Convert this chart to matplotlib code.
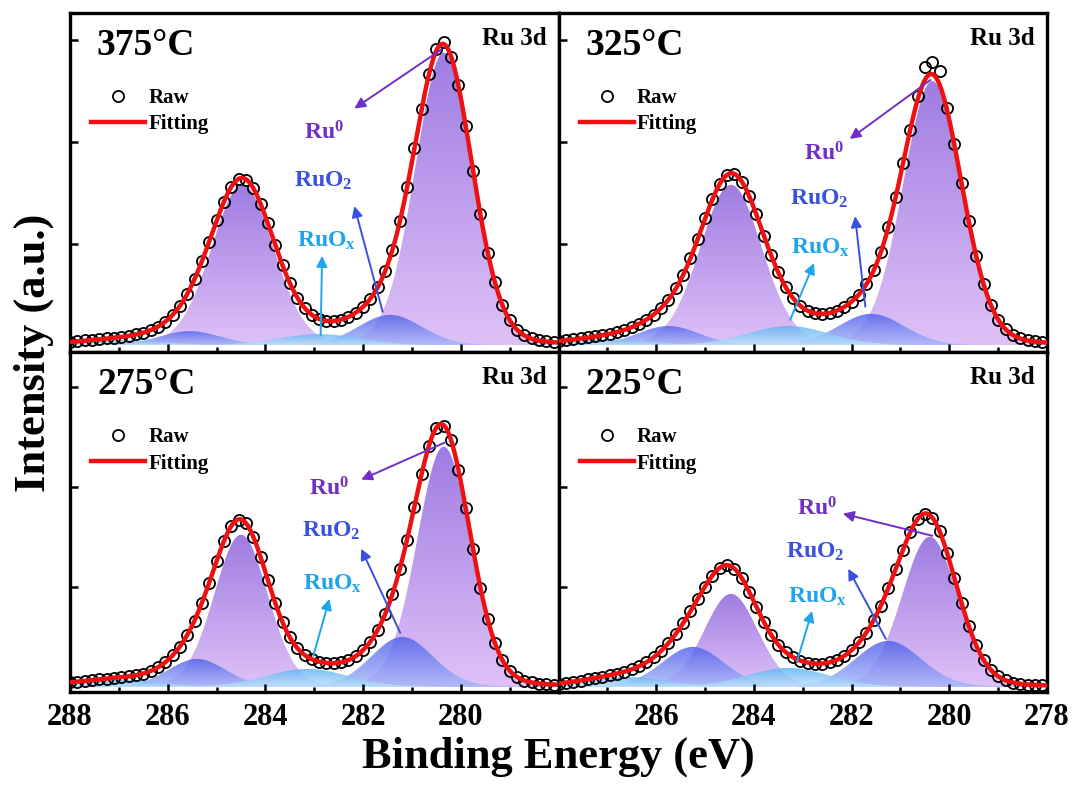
import numpy as np
import matplotlib
matplotlib.use('Agg')
import matplotlib.pyplot as plt
from matplotlib.colors import LinearSegmentedColormap

plt.rcParams['font.family'] = ['Liberation Serif', 'DejaVu Serif']
plt.rcParams['font.weight'] = 'bold'
plt.rcParams['mathtext.fontset'] = 'custom'
plt.rcParams['mathtext.rm'] = 'Liberation Serif:bold'
plt.rcParams['mathtext.it'] = 'Liberation Serif:bold'
plt.rcParams['mathtext.bf'] = 'Liberation Serif:bold'

temps = ['375°C', '325°C', '275°C', '225°C']
species = ['Ru0', 'Ru0', 'RuO2', 'RuO2', 'RuOx', 'RuOx']

# fitted peak components (Ru0 3d5/2, Ru0 3d3/2, RuO2 3d5/2, RuO2 3d3/2, RuOx 3d5/2, RuOx 3d3/2)
centers = {
    '375°C': [280.35, 284.47, 281.45, 285.55, 282.90, 286.90],
    '325°C': [280.35, 284.47, 281.60, 285.75, 283.30, 287.00],
    '275°C': [280.35, 284.50, 281.20, 285.40, 283.15, 287.00],
    '225°C': [280.40, 284.47, 281.25, 285.25, 283.30, 286.60],
}
heights = {
    '375°C': [2.88, 1.58, 0.30, 0.14, 0.11, 0.05],
    '325°C': [2.60, 1.58, 0.31, 0.19, 0.19, 0.06],
    '275°C': [2.40, 1.52, 0.50, 0.28, 0.18, 0.07],
    '225°C': [1.50, 0.93, 0.46, 0.40, 0.19, 0.10],
}
fwhms = {
    '375°C': [1.38, 1.50, 1.55, 1.50, 2.00, 2.00],
    '325°C': [1.42, 1.50, 1.60, 1.50, 2.00, 2.00],
    '275°C': [1.30, 1.30, 1.50, 1.40, 2.00, 2.00],
    '225°C': [1.35, 1.30, 1.60, 1.50, 2.00, 2.00],
}

def pv(x, c, h, w, eta=0.1):
    d = (x - c) / w
    return h * ((1 - eta) * np.exp(-4 * np.log(2) * d ** 2) + eta / (1 + 4 * d ** 2))

raw_energy = [288.00, 287.85, 287.70, 287.55, 287.40, 287.25, 287.10, 286.95, 286.80, 286.65,
              286.50, 286.35, 286.20, 286.05, 285.90, 285.75, 285.60, 285.45, 285.30, 285.15,
              285.00, 284.85, 284.70, 284.55, 284.40, 284.25, 284.10, 283.95, 283.80, 283.65,
              283.50, 283.35, 283.20, 283.05, 282.90, 282.75, 282.60, 282.45, 282.30, 282.15,
              282.00, 281.85, 281.70, 281.55, 281.40, 281.25, 281.10, 280.95, 280.80, 280.65,
              280.50, 280.35, 280.20, 280.05, 279.90, 279.75, 279.60, 279.45, 279.30, 279.15,
              279.00, 278.85, 278.70, 278.55, 278.40, 278.25, 278.10]
raw_375 = [0.03, 0.04, 0.05, 0.05, 0.06, 0.07, 0.07, 0.08, 0.09, 0.11, 0.12, 0.15, 0.18, 0.23, 0.30, 0.39, 0.51, 0.65, 0.83, 1.02, 1.23, 1.41, 1.56, 1.64, 1.63, 1.55, 1.39, 1.20, 0.99, 0.79, 0.61, 0.47, 0.37, 0.30, 0.26, 0.24, 0.24, 0.25, 0.28, 0.32, 0.38, 0.46, 0.57, 0.73, 0.94, 1.22, 1.56, 1.94, 2.33, 2.67, 2.92, 2.98, 2.84, 2.56, 2.16, 1.72, 1.29, 0.91, 0.62, 0.40, 0.25, 0.15, 0.10, 0.07, 0.05, 0.04, 0.03]
raw_325 = [0.04, 0.05, 0.06, 0.07, 0.08, 0.09, 0.10, 0.11, 0.13, 0.15, 0.18, 0.21, 0.25, 0.30, 0.37, 0.45, 0.56, 0.69, 0.86, 1.05, 1.25, 1.44, 1.59, 1.68, 1.69, 1.61, 1.47, 1.29, 1.08, 0.89, 0.72, 0.57, 0.47, 0.39, 0.34, 0.32, 0.31, 0.32, 0.34, 0.38, 0.43, 0.50, 0.60, 0.74, 0.92, 1.16, 1.46, 1.79, 2.12, 2.45, 2.74, 2.79, 2.70, 2.34, 1.98, 1.60, 1.22, 0.88, 0.60, 0.40, 0.25, 0.16, 0.10, 0.07, 0.05, 0.04, 0.03]
raw_275 = [0.05, 0.05, 0.06, 0.07, 0.08, 0.08, 0.09, 0.10, 0.11, 0.12, 0.13, 0.16, 0.20, 0.25, 0.32, 0.40, 0.52, 0.66, 0.84, 1.04, 1.26, 1.46, 1.61, 1.67, 1.64, 1.50, 1.30, 1.07, 0.84, 0.65, 0.50, 0.39, 0.32, 0.28, 0.25, 0.24, 0.24, 0.25, 0.27, 0.31, 0.37, 0.45, 0.57, 0.73, 0.93, 1.18, 1.47, 1.80, 2.13, 2.41, 2.59, 2.61, 2.47, 2.17, 1.79, 1.38, 0.99, 0.68, 0.44, 0.27, 0.16, 0.10, 0.06, 0.05, 0.03, 0.03, 0.02]
raw_225 = [0.03, 0.04, 0.05, 0.06, 0.08, 0.09, 0.10, 0.12, 0.13, 0.15, 0.18, 0.21, 0.25, 0.30, 0.36, 0.44, 0.53, 0.64, 0.76, 0.88, 1.00, 1.11, 1.19, 1.22, 1.18, 1.09, 0.95, 0.80, 0.65, 0.52, 0.42, 0.35, 0.30, 0.26, 0.24, 0.23, 0.23, 0.25, 0.27, 0.31, 0.37, 0.45, 0.54, 0.67, 0.81, 0.99, 1.18, 1.37, 1.55, 1.68, 1.73, 1.69, 1.56, 1.34, 1.09, 0.84, 0.61, 0.42, 0.27, 0.17, 0.11, 0.07, 0.04, 0.03, 0.02, 0.02, 0.02]
raw = {'375°C': raw_375, '325°C': raw_325, '275°C': raw_275, '225°C': raw_225}

fill_colors = {
    'Ru0': ('#d8b4f6', '#8a5fdc'),
    'RuO2': ('#a8b8fa', '#5060ea'),
    'RuOx': ('#c0e4fc', '#58b0f2'),
}
label_colors = {'Ru0': '#7030c8', 'RuO2': '#3a50e0', 'RuOx': '#1ea5ec'}

arrows = {
    '375°C': [(280.40, 2.91, 282.18, 2.33), (281.60, 0.33, 282.18, 1.37), (282.87, 0.10, 282.84, 0.88)],
    '325°C': [(280.39, 2.61, 282.04, 2.03), (281.72, 0.38, 281.93, 1.27), (283.26, 0.25, 282.77, 0.81)],
    '275°C': [(280.33, 2.44, 282.04, 2.07), (281.24, 0.54, 282.04, 1.38), (283.02, 0.31, 282.69, 0.88)],
    '225°C': [(280.35, 1.51, 282.18, 1.73), (281.30, 0.48, 282.07, 1.18), (283.12, 0.25, 282.81, 0.76)],
}
label_pos = {
    '375°C': [(282.80, 2.09), (282.82, 1.62), (282.76, 1.03)],
    '325°C': [(282.56, 1.88), (282.67, 1.44), (282.63, 0.96)],
    '275°C': [(282.69, 1.98), (282.65, 1.56), (282.62, 1.03)],
    '225°C': [(282.70, 1.78), (282.74, 1.35), (282.70, 0.90)],
}
labels = [r'Ru$^{0}$', r'RuO$_{2}$', r'RuO$_{\mathrm{x}}$']
label_species = ['Ru0', 'RuO2', 'RuOx']

xticks_left = [288, 286, 284, 282, 280]
xticks_right = [286, 284, 282, 280, 278]

fig = plt.figure(figsize=(10.74, 7.96), dpi=100)
gs = fig.add_gridspec(2, 2, left=0.0652, right=0.9749, top=0.9837, bottom=0.1307,
                      hspace=0, wspace=0)
xx = np.linspace(288, 278, 1000)

for i, t in enumerate(temps):
    r, col = divmod(i, 2)
    ax = fig.add_subplot(gs[r, col])
    total = np.zeros_like(xx)
    for k, (c, h, w) in enumerate(zip(centers[t], heights[t], fwhms[t])):
        y = pv(xx, c, h, w)
        total += y
        sp = species[k]
        poly = ax.fill_between(xx, 0, y, color='none', lw=0)
        path = poly.get_paths()[0]
        cmap = LinearSegmentedColormap.from_list('g', list(fill_colors[sp]))
        grad = np.linspace(0, 1, 256).reshape(-1, 1)
        im = ax.imshow(grad, cmap=cmap, aspect='auto', origin='lower',
                       extent=[278, 288, 0, y.max()], alpha=0.82,
                       interpolation='bilinear', zorder=1 + k * 0.1)
        im.set_clip_path(path, transform=ax.transData)
    ax.plot(raw_energy, raw[t], 'o', mfc='none', mec='black', ms=8, mew=1.3,
            zorder=4, label='Raw')
    ax.plot(xx, total, '-', color='#ee1111', lw=3.2, zorder=5, label='Fitting')

    for (x0, y0, x1, y1), sp in zip(arrows[t], label_species):
        ax.annotate('', xy=(x1, y1), xytext=(x0, y0),
                    arrowprops=dict(arrowstyle='-|>', color=label_colors[sp], lw=1.4,
                                    mutation_scale=16, shrinkA=0, shrinkB=0), zorder=6)
    for (lx, ly), lab, sp in zip(label_pos[t], labels, label_species):
        ax.text(lx, ly, lab, color=label_colors[sp], fontsize=17, fontweight='bold',
                ha='center', va='center', zorder=7)

    ax.text(0.055, 0.905, t, transform=ax.transAxes, fontsize=27, fontweight='bold',
            ha='left', va='center')
    ax.text(0.975, 0.925, 'Ru 3d', transform=ax.transAxes, fontsize=18, fontweight='bold',
            ha='right', va='center')
    ax.legend(loc='upper left', bbox_to_anchor=(0.022, 0.81), frameon=False,
              handlelength=2.6, handletextpad=0.15, labelspacing=0.3,
              borderpad=0, numpoints=1, prop={'weight': 'bold', 'size': 15})

    ax.set_xlim(288, 278)
    if r == 0:
        ax.set_ylim(-0.07, 3.27)
    else:
        ax.set_ylim(-0.05, 3.34)
    ax.set_yticks([1, 2, 3])
    ax.set_yticklabels([])
    ax.set_xticks(xticks_left if col == 0 else xticks_right)
    ax.set_xticks([287, 285, 283, 281, 279], minor=True)
    ax.tick_params(which='both', direction='in', top=False, right=False, width=1.8)
    ax.tick_params(which='major', length=6)
    ax.tick_params(which='minor', length=3.5)
    ax.tick_params(axis='x', labelsize=22, pad=8)
    if r == 0:
        ax.set_xticklabels([])
    for s in ax.spines.values():
        s.set_linewidth(2.4)

fig.text(0.52, 0.049, 'Binding Energy (eV)', fontsize=32, fontweight='bold',
         ha='center', va='center')
fig.text(0.031, 0.557, 'Intensity (a.u.)', fontsize=32, fontweight='bold',
         ha='center', va='center', rotation=90)

fig.savefig('out.png', dpi=100)
